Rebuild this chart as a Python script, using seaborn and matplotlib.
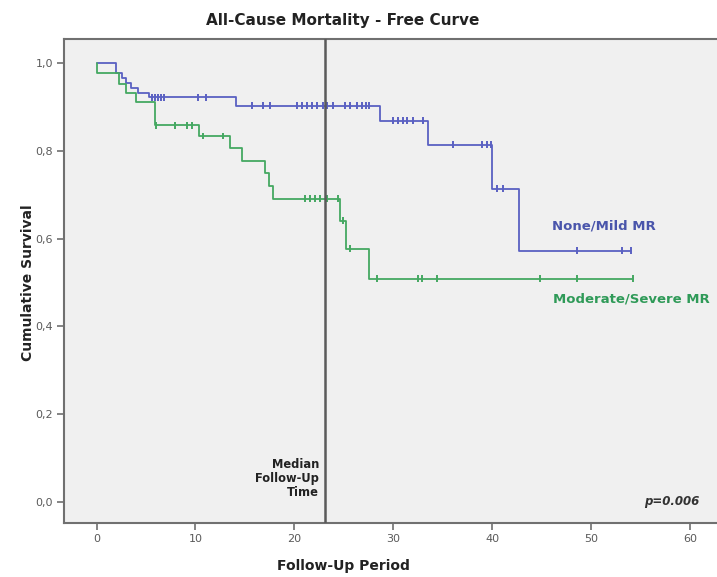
import numpy as np
import pandas as pd
import matplotlib
matplotlib.use("Agg")
import matplotlib.pyplot as plt
import seaborn as sns

# ---------------- data ----------------
group_names = ["None/Mild MR", "Moderate/Severe MR"]

blue_times = [0.0, 2.0, 2.6, 3.0, 3.5, 4.2, 5.3, 14.1, 28.7, 33.5, 40.0, 42.7]
blue_surv = [1.0, 0.978, 0.966, 0.955, 0.944, 0.933, 0.922, 0.903, 0.869, 0.814, 0.714, 0.573]
blue_last_time = 54.1
blue_censored = [5.6, 5.9, 6.2, 6.5, 6.8, 10.3, 11.1, 15.7, 16.8, 17.5,
                 20.3, 20.8, 21.3, 21.8, 22.3, 22.9, 23.3, 23.9, 25.1, 25.6,
                 26.3, 26.8, 27.2, 27.6, 30.0, 30.5, 31.0, 31.4, 32.0, 33.0,
                 36.0, 39.0, 39.5, 39.9, 40.5, 41.1, 48.6, 53.1, 54.1]

green_times = [0.0, 0.0, 2.3, 3.0, 4.0, 5.9, 10.4, 13.5, 14.7, 17.0, 17.4, 17.8,
               24.6, 25.2, 27.5]
green_surv = [1.0, 0.977, 0.953, 0.932, 0.912, 0.858, 0.834, 0.806, 0.777, 0.750,
              0.720, 0.691, 0.641, 0.577, 0.509]
green_last_time = 54.3
green_censored = [6.0, 7.9, 9.1, 9.6, 10.8, 12.8, 21.1, 21.6, 22.1, 22.6, 23.3,
                  24.4, 24.9, 25.6, 28.4, 32.5, 32.9, 34.4, 44.8, 48.6, 54.3]

median_follow_up = 23.1
x_ticks = [0, 10, 20, 30, 40, 50, 60]
y_ticks = [0.0, 0.2, 0.4, 0.6, 0.8, 1.0]
p_text = "p=0.006"

colors = {"None/Mild MR": "#5a61c2", "Moderate/Severe MR": "#45a862"}
label_colors = {"None/Mild MR": "#4a55ab", "Moderate/Severe MR": "#2f9a58"}

# ---------------- build tables ----------------
def curve_frame(name, times, surv, last):
    t = list(times) + [last]
    s = list(surv) + [surv[-1]]
    return pd.DataFrame({"t": t, "s": s, "group": name})

def censor_frame(name, times, surv, cens):
    times = np.asarray(times)
    surv = np.asarray(surv)
    idx = np.searchsorted(times, cens, side="right") - 1
    return pd.DataFrame({"t": cens, "s": surv[idx], "group": name})

curves = pd.concat([
    curve_frame(group_names[0], blue_times, blue_surv, blue_last_time),
    curve_frame(group_names[1], green_times, green_surv, green_last_time),
], ignore_index=True)
marks = pd.concat([
    censor_frame(group_names[0], blue_times, blue_surv, blue_censored),
    censor_frame(group_names[1], green_times, green_surv, green_censored),
], ignore_index=True)

# ---------------- figure ----------------
sns.set_style("white")
plt.rcParams["font.family"] = ["DejaVu Sans"]

W, H = 717, 577
fig = plt.figure(figsize=(W / 100, H / 100), dpi=100)
fig.patch.set_facecolor("white")
ax = fig.add_axes([64 / W, 54 / H, 653 / W, 484 / H])
ax.set_facecolor("#f0f0f0")

sns.lineplot(data=curves, x="t", y="s", hue="group", palette=colors,
             drawstyle="steps-post", estimator=None, sort=False,
             linewidth=1.3, legend=False, ax=ax)
sns.scatterplot(data=marks, x="t", y="s", hue="group", palette=colors,
                marker="|", s=24, linewidth=1.4, legend=False, ax=ax, zorder=3)

ax.axvline(median_follow_up, color="#5a5a5a", lw=1.8, zorder=4)

ax.set_xlim(-3.3, 62.75)
ax.set_ylim(-0.048, 1.055)
ax.set_xticks(x_ticks)
ax.set_xticklabels([str(v) for v in x_ticks])
ax.set_yticks(y_ticks)
ax.set_yticklabels([f"{v:.1f}".replace(".", ",") for v in y_ticks])
ax.set_xlabel("")
ax.set_ylabel("")

for side in ["left", "bottom", "top"]:
    ax.spines[side].set_visible(True)
    ax.spines[side].set_color("#707070")
    ax.spines[side].set_linewidth(1.5)
ax.spines["right"].set_visible(False)

ax.tick_params(axis="both", direction="out", length=5, width=1.2,
               color="#707070", labelsize=8, labelcolor="#5a5a5a", pad=3)
ax.tick_params(axis="x", bottom=True)
ax.tick_params(axis="y", left=True)

# annotations
ax.text(46.05, 0.629, group_names[0], color=label_colors[group_names[0]],
        fontsize=9.5, fontweight="bold", ha="left", va="center")
ax.text(46.15, 0.462, group_names[1], color=label_colors[group_names[1]],
        fontsize=9.5, fontweight="bold", ha="left", va="center")
ax.text(22.5, 0.053, "Median\nFollow-Up\nTime", color="#222222",
        fontsize=8.3, fontweight="bold", ha="right", va="center",
        multialignment="right", linespacing=1.1)
ax.text(61.0, 0.0, p_text, color="#333333", fontsize=8.5,
        fontweight="bold", fontstyle="italic", ha="right", va="center")

fig.text(343 / W, 1 - 21 / H, "All-Cause Mortality - Free Curve",
         fontsize=11, fontweight="bold", color="#222222", ha="center", va="center")
fig.text(343 / W, 1 - 566 / H, "Follow-Up Period",
         fontsize=10, fontweight="bold", color="#222222", ha="center", va="center")
fig.text(28 / W, 1 - 283 / H, "Cumulative Survival", rotation=90,
         fontsize=10, fontweight="bold", color="#222222", ha="center", va="center")

fig.savefig("out.png", dpi=100)
